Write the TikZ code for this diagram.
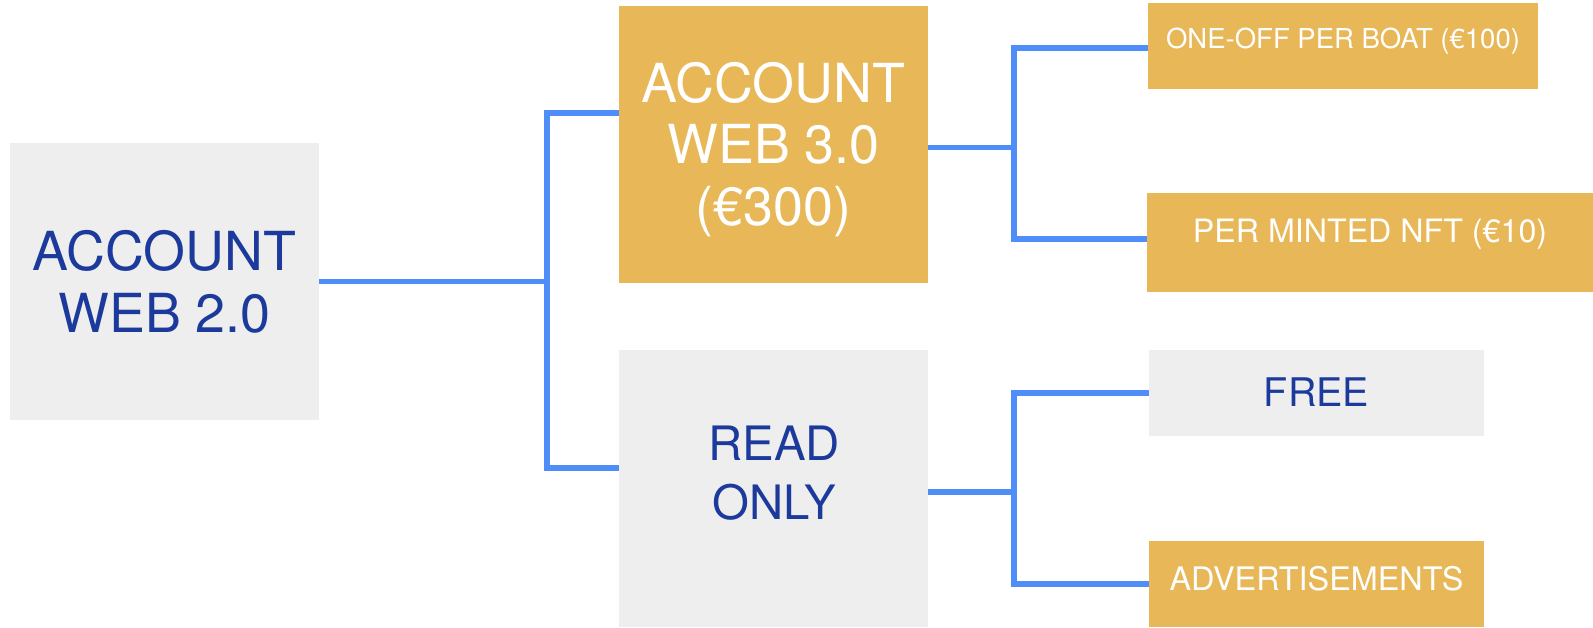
\documentclass[tikz,border=0pt]{standalone}
\usepackage{fontspec}
\setmainfont{TeX Gyre Heros}
\usetikzlibrary{calc}
\definecolor{gold}{HTML}{E8B757}
\definecolor{greybox}{HTML}{EEEEEE}
\definecolor{linkblue}{HTML}{4F8DF8}
\definecolor{navy}{HTML}{1B3A9B}
\tikzset{
  box/.style={inner sep=0pt, outer sep=0pt, draw=none},
  goldbox/.style={box, fill=gold},
  greybx/.style={box, fill=greybox},
  lbl/.style={inner sep=0pt, align=center},
  conn/.style={draw=linkblue, line width=2.7pt, line join=miter},
}
\begin{document}
\begin{tikzpicture}[x=0.5pt,y=-0.5pt]
\useasboundingbox[fill=white] (0,0) rectangle (1593,627);
% boxes
\node[greybx, minimum width=154.5pt, minimum height=138.5pt] (A) at (164.5,281.5) {};
\node[goldbox, minimum width=154.5pt, minimum height=138.5pt] (B) at (773.5,144.5) {};
\node[greybx, minimum width=154.5pt, minimum height=138.5pt] (C) at (773.5,488.5) {};
\node[goldbox, minimum width=195pt, minimum height=43pt] (D) at (1343,46) {};
\node[goldbox, minimum width=223pt, minimum height=49.5pt] (E) at (1370,242.5) {};
\node[greybx, minimum width=167.5pt, minimum height=43pt] (F) at (1316.5,393) {};
\node[goldbox, minimum width=167.5pt, minimum height=43pt] (G) at (1316.5,584) {};
% texts
\node[lbl, text=navy, font=\fontsize{26.9}{30.9}\selectfont] (tA) at (164.5,281.7) {ACCOUNT\\WEB 2.0};
\node[lbl, text=white, font=\fontsize{26.9}{30.9}\selectfont] (tB) at (773.5,149.5) {ACCOUNT\\WEB 3.0\\(€300)};
\node[lbl, text=navy, font=\fontsize{23.7}{29.7}\selectfont] (tC) at (774,473.3) {READ\\ONLY};
\node[lbl, text=white, anchor=base, font=\fontsize{13.75}{16}\selectfont] (tD) at (1343,48) {ONE-OFF PER BOAT (€100)};
\node[lbl, text=white, anchor=base, font=\fontsize{16.1}{18}\selectfont] (tE) at (1370,242.7) {PER MINTED NFT (€10)};
\node[lbl, text=navy, anchor=base, font=\fontsize{19.7}{22}\selectfont] (tF) at (1316.5,406.7) {FREE};
\node[lbl, text=white, anchor=base, font=\fontsize{16.2}{18}\selectfont] (tG) at (1316.5,590) {ADVERTISEMENTS};
% junctions
\coordinate (j1) at ($(A.east)+(228,0)$);
\coordinate (j2) at ($(B.east)+(86,3)$);
\coordinate (j3) at ($(C.east)+(86,3.5)$);
% connectors
\draw[conn] (A.east) -- (j1);
\draw[conn] ($(B.west)+(0,-31.5)$) -| (j1) |- ($(C.west)+(0,-20.5)$);
\draw[conn] (B.east |- j2) -- (j2);
\draw[conn] ($(D.west)+(0,2)$) -| (j2) |- ($(E.west)+(0,-3.5)$);
\draw[conn] (C.east |- j3) -- (j3);
\draw[conn] (F.west) -| (j3) |- (G.west);
\end{tikzpicture}
\end{document}
